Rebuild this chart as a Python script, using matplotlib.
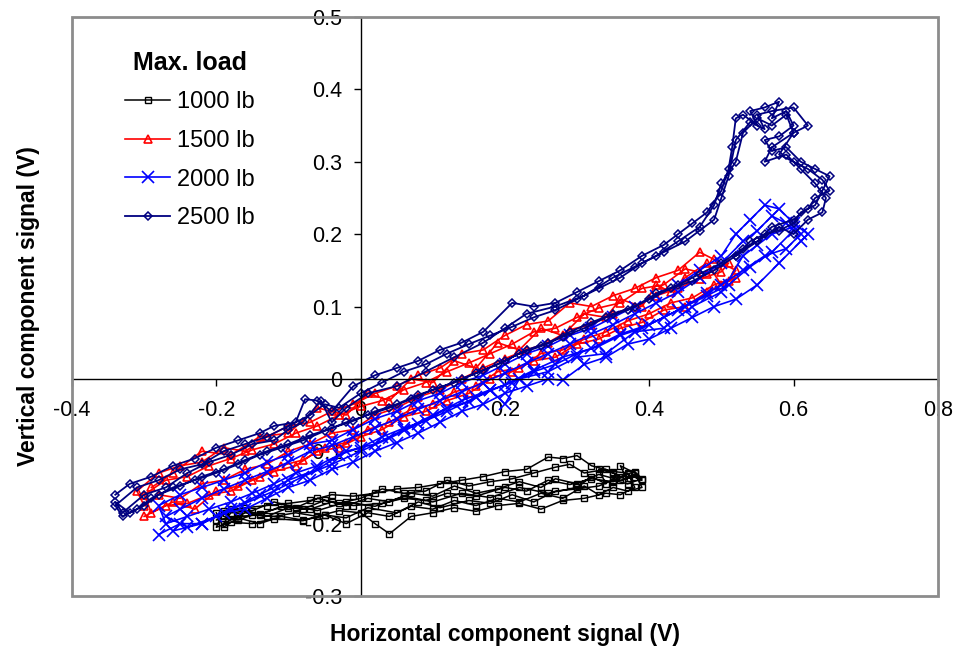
import matplotlib.pyplot as plt
from matplotlib.patches import Rectangle
from matplotlib.ticker import FuncFormatter

plt.rcParams['font.family'] = ['Liberation Sans', 'DejaVu Sans']

# 1000 lb
x_1000 = [
    -0.19, -0.17, -0.15, -0.12, -0.09, -0.06, -0.03, 0.0, 0.02, 0.04, 0.07,
    0.1, 0.13, 0.16, 0.19, 0.22, 0.25, 0.28, 0.31, 0.34, 0.36, 0.38,
    0.37, 0.35, 0.32, 0.30, 0.28, 0.26, 0.23, 0.2, 0.17, 0.14, 0.11, 0.08,
    0.05, 0.02, -0.01, -0.04, -0.07, -0.1, -0.13, -0.16, -0.19,
    -0.2, -0.18, -0.15, -0.12, -0.08, -0.05, -0.02, 0.01, 0.05, 0.08, 0.11,
    0.15, 0.18, 0.21, 0.24, 0.27, 0.3, 0.33, 0.35, 0.37, 0.39,
    0.38, 0.36, 0.34, 0.31, 0.29, 0.27, 0.24, 0.21, 0.18, 0.15, 0.12, 0.09,
    0.06, 0.03, 0.0, -0.03, -0.06, -0.09, -0.12, -0.15, -0.18,
    -0.19, -0.16, -0.13, -0.1, -0.07, -0.04, -0.01, 0.03, 0.06, 0.09, 0.12,
    0.16, 0.2, 0.23, 0.26, 0.29, 0.32, 0.35, 0.37, 0.39,
    0.38, 0.36, 0.33, 0.3, 0.27, 0.25, 0.22, 0.19, 0.16, 0.13, 0.1, 0.07,
    0.04, 0.01, -0.02, -0.05, -0.08, -0.11, -0.14, -0.17, -0.2,
    -0.18, -0.14, -0.1, -0.06, -0.02, 0.02, 0.06, 0.1, 0.14, 0.18, 0.22,
    0.26, 0.3, 0.32, 0.34, 0.33, 0.35, 0.37, 0.36, 0.38, 0.39, 0.37, 0.35,
    0.33, 0.31, 0.28, 0.25, 0.22, 0.19, 0.16, 0.13, 0.1, 0.07, 0.04, 0.01,
    -0.02, -0.05, -0.08, -0.11, -0.14, -0.17, -0.19, -0.2]
y_1000 = [
    -0.19, -0.195, -0.188, -0.19, -0.185, -0.19, -0.182, -0.185, -0.2,
    -0.214, -0.19, -0.185, -0.178, -0.183, -0.175, -0.172, -0.18, -0.168,
    -0.165, -0.158, -0.16, -0.15,
    -0.13, -0.128, -0.12, -0.106, -0.11, -0.108, -0.125, -0.128, -0.135,
    -0.14, -0.145, -0.15, -0.152, -0.158, -0.162, -0.16, -0.168, -0.172,
    -0.175, -0.178, -0.182,
    -0.205, -0.198, -0.2, -0.193, -0.196, -0.188, -0.192, -0.178, -0.185,
    -0.17, -0.178, -0.168, -0.172, -0.16, -0.17, -0.155, -0.152, -0.148,
    -0.14, -0.145, -0.138,
    -0.128, -0.135, -0.125, -0.13, -0.118, -0.122, -0.13, -0.138, -0.142,
    -0.148, -0.14, -0.155, -0.158, -0.152, -0.165, -0.172, -0.165, -0.178,
    -0.17, -0.182, -0.185,
    -0.2, -0.185, -0.19, -0.178, -0.18, -0.17, -0.175, -0.172, -0.165,
    -0.168, -0.158, -0.162, -0.15, -0.155, -0.14, -0.146, -0.138, -0.142,
    -0.132, -0.14,
    -0.135, -0.14, -0.132, -0.145, -0.138, -0.15, -0.142, -0.152, -0.158,
    -0.148, -0.162, -0.158, -0.17, -0.165, -0.175, -0.168, -0.18, -0.176,
    -0.188, -0.19, -0.195,
    -0.18, -0.186, -0.175, -0.182, -0.17, -0.176, -0.162, -0.17, -0.158,
    -0.164, -0.15, -0.158, -0.15, -0.135, -0.145, -0.125, -0.13, -0.14,
    -0.12, -0.13, -0.15, -0.155, -0.15, -0.16, -0.148, -0.165, -0.158,
    -0.17, -0.165, -0.175, -0.168, -0.18, -0.176, -0.19, -0.185, -0.2,
    -0.188, -0.195, -0.19, -0.2, -0.192, -0.205, -0.185]

# 1500 lb
x_1500 = [
    -0.3, -0.27, -0.24, -0.21, -0.18, -0.15, -0.12, -0.09, -0.06, -0.03, 0.0,
    0.03, 0.06, 0.09, 0.12, 0.15, 0.18, 0.21, 0.24, 0.27, 0.3, 0.33, 0.36,
    0.39, 0.42, 0.45, 0.48, 0.51,
    0.52, 0.49, 0.47, 0.44, 0.41, 0.38, 0.35, 0.32, 0.29, 0.26, 0.23, 0.2,
    0.17, 0.14, 0.11, 0.08, 0.05, 0.02, -0.01, -0.04, -0.07, -0.1, -0.13,
    -0.16, -0.19, -0.22, -0.25, -0.28, -0.31,
    -0.3, -0.28, -0.25, -0.22, -0.19, -0.16, -0.13, -0.1, -0.07, -0.04,
    -0.01, 0.02, 0.05, 0.08, 0.11, 0.14, 0.17, 0.2, 0.23, 0.26, 0.29, 0.32,
    0.35, 0.38, 0.41, 0.44, 0.47, 0.5,
    0.51, 0.48, 0.45, 0.42, 0.39, 0.36, 0.33, 0.3, 0.27, 0.24, 0.21, 0.18,
    0.15, 0.12, 0.09, 0.06, 0.03, 0.0, -0.03, -0.06, -0.09, -0.12, -0.15,
    -0.18, -0.21, -0.24, -0.27, -0.3,
    -0.29, -0.26, -0.23, -0.2, -0.17, -0.14, -0.11, -0.08, -0.05, -0.02,
    0.01, 0.04, 0.07, 0.1, 0.13, 0.16, 0.19, 0.22, 0.25, 0.28, 0.31, 0.34,
    0.37, 0.4, 0.43, 0.46, 0.49, 0.52,
    0.5, 0.48, 0.45, 0.43, 0.41, 0.39, 0.36, 0.34, 0.31, 0.28, 0.25, 0.22,
    0.19, 0.16, 0.13, 0.1, 0.07, 0.04, 0.01, -0.02, -0.06, -0.1, -0.14,
    -0.18, -0.22, -0.26, -0.29]
y_1500 = [
    -0.19, -0.175, -0.172, -0.16, -0.155, -0.14, -0.128, -0.12, -0.1,
    -0.095, -0.08, -0.07, -0.052, -0.045, -0.03, -0.02, 0.0, 0.01, 0.025,
    0.03, 0.048, 0.055, 0.07, 0.078, 0.095, 0.1, 0.12, 0.135,
    0.15, 0.165, 0.175, 0.15, 0.14, 0.125, 0.115, 0.1, 0.105, 0.08, 0.075,
    0.06, 0.04, 0.035, 0.015, 0.005, -0.01, -0.02, -0.035, -0.045, -0.06,
    -0.065, -0.08, -0.1, -0.095, -0.115, -0.12, -0.13, -0.155,
    -0.175, -0.16, -0.165, -0.145, -0.14, -0.125, -0.118, -0.1, -0.09,
    -0.075, -0.07, -0.05, -0.04, -0.025, -0.015, 0.0, 0.015, 0.028, 0.04,
    0.05, 0.068, 0.075, 0.09, 0.1, 0.115, 0.125, 0.138, 0.148,
    0.16, 0.145, 0.152, 0.13, 0.125, 0.105, 0.098, 0.085, 0.07, 0.065,
    0.048, 0.035, 0.022, 0.01, -0.005, -0.015, -0.03, -0.038, -0.05, -0.065,
    -0.075, -0.09, -0.098, -0.11, -0.12, -0.135, -0.14, -0.16,
    -0.185, -0.17, -0.18, -0.155, -0.148, -0.135, -0.12, -0.112, -0.095,
    -0.088, -0.07, -0.06, -0.042, -0.035, -0.018, -0.01, 0.01, 0.015, 0.035,
    0.04, 0.055, 0.065, 0.08, 0.09, 0.105, 0.112, 0.13, 0.14,
    0.13, 0.16, 0.14, 0.12, 0.13, 0.1, 0.11, 0.085, 0.09, 0.06, 0.07, 0.04,
    0.05, 0.015, 0.025, -0.005, 0.0, -0.03, -0.02, -0.05, -0.04, -0.075,
    -0.08, -0.105, -0.1, -0.13, -0.15]

# 2000 lb
x_2000 = [
    -0.28, -0.25, -0.22, -0.19, -0.16, -0.13, -0.1, -0.07, -0.04, -0.01,
    0.02, 0.05, 0.08, 0.11, 0.14, 0.17, 0.2, 0.23, 0.26, 0.28, 0.31, 0.34,
    0.37, 0.4, 0.43, 0.46, 0.49, 0.52, 0.55, 0.58, 0.61,
    0.62, 0.6, 0.58, 0.56, 0.54, 0.52, 0.5, 0.47, 0.44, 0.41, 0.38, 0.35,
    0.32, 0.29, 0.26, 0.23, 0.2, 0.17, 0.14, 0.11, 0.08, 0.05, 0.02, -0.01,
    -0.04, -0.07, -0.1, -0.13, -0.16, -0.19, -0.22, -0.25, -0.28,
    -0.27, -0.24, -0.21, -0.18, -0.15, -0.12, -0.09, -0.06, -0.03, 0.0,
    0.03, 0.06, 0.09, 0.12, 0.15, 0.18, 0.21, 0.24, 0.27, 0.3, 0.33, 0.36,
    0.39, 0.42, 0.45, 0.48, 0.51, 0.54, 0.57, 0.6,
    0.59, 0.57, 0.55, 0.53, 0.5, 0.47, 0.44, 0.41, 0.38, 0.35, 0.32, 0.29,
    0.26, 0.23, 0.2, 0.17, 0.14, 0.11, 0.08, 0.05, 0.02, -0.01, -0.04,
    -0.07, -0.1, -0.13, -0.16, -0.19, -0.22, -0.25, -0.27,
    -0.24, -0.2, -0.16, -0.12, -0.08, -0.04, 0.0, 0.04, 0.08, 0.12, 0.16,
    0.2, 0.24, 0.28, 0.32, 0.36, 0.4, 0.44, 0.48, 0.5, 0.53, 0.56, 0.59,
    0.61, 0.6, 0.57, 0.55, 0.53,
    0.5, 0.46, 0.42, 0.38, 0.34, 0.3, 0.26, 0.22, 0.2, 0.18, 0.14, 0.1,
    0.06, 0.02, -0.02, -0.06, -0.1, -0.14, -0.18, -0.22, -0.26]
y_2000 = [
    -0.215, -0.2, -0.2, -0.185, -0.18, -0.165, -0.15, -0.14, -0.125, -0.115,
    -0.1, -0.088, -0.075, -0.06, -0.045, -0.035, -0.02, -0.01, 0.0, -0.002,
    0.02, 0.03, 0.048, 0.055, 0.07, 0.085, 0.1, 0.11, 0.13, 0.16, 0.19,
    0.2, 0.215, 0.235, 0.24, 0.22, 0.2, 0.17, 0.15, 0.13, 0.115, 0.1, 0.085,
    0.07, 0.06, 0.045, 0.035, 0.02, 0.005, -0.005, -0.02, -0.03, -0.045,
    -0.055, -0.07, -0.085, -0.09, -0.105, -0.115, -0.13, -0.14, -0.15,
    -0.16, -0.175,
    -0.2, -0.19, -0.18, -0.17, -0.158, -0.145, -0.13, -0.12, -0.105, -0.095,
    -0.08, -0.068, -0.058, -0.04, -0.032, -0.015, -0.005, 0.01, 0.02, 0.035,
    0.045, 0.06, 0.07, 0.085, 0.1, 0.115, 0.13, 0.155, 0.175, 0.205,
    0.215, 0.225, 0.205, 0.19, 0.16, 0.14, 0.12, 0.105, 0.09, 0.075, 0.062,
    0.048, 0.035, 0.022, 0.008, -0.005, -0.018, -0.03, -0.042, -0.055,
    -0.068, -0.08, -0.092, -0.1, -0.115, -0.128, -0.14, -0.152, -0.165,
    -0.18, -0.19,
    -0.205, -0.19, -0.172, -0.155, -0.135, -0.118, -0.1, -0.082, -0.062,
    -0.045, -0.025, -0.008, 0.012, 0.03, 0.042, 0.062, 0.075, 0.095, 0.118,
    0.13, 0.15, 0.17, 0.18, 0.2, 0.21, 0.2, 0.185, 0.17,
    0.12, 0.1, 0.07, 0.065, 0.035, 0.03, 0.01, 0.0, -0.035, -0.015, -0.03,
    -0.05, -0.07, -0.09, -0.1, -0.125, -0.14, -0.16, -0.18, -0.2, -0.21]

# 2500 lb
x_2500 = [
    -0.34, -0.32, -0.29, -0.26, -0.23, -0.2, -0.17, -0.14, -0.12, -0.09,
    -0.077, -0.06, -0.04, -0.01, 0.02, 0.05, 0.08, 0.11, 0.14, 0.17, 0.21,
    0.24, 0.27, 0.3, 0.33, 0.36, 0.39, 0.42, 0.44, 0.46, 0.48, 0.5, 0.51,
    0.515, 0.52,
    0.53, 0.55, 0.54, 0.56, 0.58, 0.57, 0.59, 0.6, 0.58, 0.56, 0.57, 0.59,
    0.61, 0.63, 0.65, 0.64, 0.63, 0.61, 0.6,
    0.58, 0.56, 0.54, 0.52, 0.49, 0.46, 0.43, 0.4, 0.37, 0.34, 0.31, 0.28,
    0.25, 0.22, 0.19, 0.16, 0.13, 0.1, 0.07, 0.04, 0.01, -0.02, -0.05,
    -0.08, -0.11, -0.14, -0.17, -0.2, -0.23, -0.26, -0.29, -0.31, -0.33,
    -0.34, -0.31, -0.28, -0.25, -0.22, -0.19, -0.16, -0.13, -0.1, -0.07,
    -0.05, -0.03, 0.0, 0.03, 0.06, 0.09, 0.12, 0.15, 0.18, 0.21, 0.24, 0.27,
    0.3, 0.33, 0.36, 0.39, 0.42, 0.45, 0.47, 0.49, 0.5, 0.51,
    0.52, 0.54, 0.56, 0.55, 0.57, 0.6, 0.62, 0.6, 0.58, 0.6, 0.62, 0.64,
    0.65, 0.63, 0.62, 0.6, 0.57,
    0.55, 0.53, 0.5, 0.47, 0.44, 0.41, 0.38, 0.35, 0.32, 0.29, 0.26, 0.23,
    0.2, 0.17, 0.14, 0.11, 0.08, 0.05, 0.02, -0.01, -0.04, -0.07, -0.1,
    -0.13, -0.16, -0.19, -0.22, -0.25, -0.28, -0.3, -0.32, -0.34,
    -0.33, -0.3, -0.27, -0.24, -0.21, -0.18, -0.15, -0.12, -0.1, -0.08,
    -0.055, -0.04, -0.02, 0.01, 0.05, 0.09, 0.13, 0.17, 0.2, 0.23, 0.27,
    0.31, 0.35, 0.38, 0.41, 0.44, 0.47, 0.49, 0.5, 0.52, 0.53, 0.55, 0.57,
    0.59, 0.6, 0.57, 0.56, 0.59, 0.61, 0.63, 0.645, 0.64, 0.62, 0.6, 0.58,
    0.55, 0.52]
y_2500 = [
    -0.16, -0.145, -0.135, -0.12, -0.11, -0.095, -0.085, -0.075, -0.065,
    -0.06, -0.028, -0.03, -0.045, -0.01, 0.005, 0.015, 0.025, 0.04, 0.05,
    0.065, 0.105, 0.1, 0.105, 0.12, 0.135, 0.15, 0.17, 0.185, 0.2, 0.215,
    0.23, 0.26, 0.29, 0.32, 0.36,
    0.365, 0.35, 0.37, 0.375, 0.383, 0.36, 0.37, 0.35, 0.335, 0.33, 0.315,
    0.32, 0.3, 0.29, 0.28, 0.26, 0.24, 0.23, 0.215,
    0.205, 0.2, 0.19, 0.17, 0.15, 0.135, 0.125, 0.11, 0.095, 0.085, 0.07,
    0.058, 0.045, 0.035, 0.02, 0.008, -0.005, -0.015, -0.028, -0.04, -0.05,
    -0.06, -0.072, -0.085, -0.095, -0.105, -0.118, -0.13, -0.14, -0.15,
    -0.165, -0.18, -0.19,
    -0.175, -0.15, -0.14, -0.125, -0.118, -0.1, -0.09, -0.08, -0.065, -0.05,
    -0.035, -0.04, -0.02, -0.005, 0.01, 0.02, 0.035, 0.048, 0.06, 0.072,
    0.085, 0.095, 0.11, 0.125, 0.14, 0.16, 0.175, 0.19, 0.205, 0.22, 0.25,
    0.28,
    0.33, 0.355, 0.345, 0.365, 0.37, 0.375, 0.35, 0.34, 0.31, 0.3, 0.29,
    0.275, 0.26, 0.25, 0.235, 0.22, 0.21,
    0.19, 0.18, 0.16, 0.145, 0.13, 0.118, 0.1, 0.09, 0.078, 0.065, 0.05,
    0.04, 0.025, 0.012, 0.0, -0.012, -0.022, -0.035, -0.045, -0.058, -0.068,
    -0.078, -0.09, -0.1, -0.112, -0.125, -0.135, -0.148, -0.16, -0.175,
    -0.185, -0.17,
    -0.185, -0.16, -0.15, -0.13, -0.115, -0.105, -0.09, -0.085, -0.07,
    -0.06, -0.03, -0.06, -0.04, -0.02, -0.01, 0.01, 0.03, 0.05, 0.07, 0.09,
    0.1, 0.115, 0.14, 0.155, 0.17, 0.19, 0.21, 0.24, 0.27, 0.3, 0.34, 0.36,
    0.35, 0.365, 0.34, 0.32, 0.3, 0.31, 0.29, 0.27, 0.25, 0.23, 0.22, 0.2,
    0.21, 0.19, 0.17]

labels = ['1000 lb', '1500 lb', '2000 lb', '2500 lb']
legend_title = 'Max. load'
xlabel = 'Horizontal component signal (V)'
ylabel = 'Vertical component signal (V)'


def main():
    fig = plt.figure(figsize=(9.55, 6.48), dpi=100)
    ax = fig.add_axes([0.0754, 0.0802, 0.9066, 0.8936])

    ax.plot(x_1000, y_1000, color='black', lw=1.1, marker='s', ms=4,
            mfc='none', mew=1.0, label=labels[0])
    ax.plot(x_1500, y_1500, color='#ff0000', lw=1.2, marker='^', ms=6,
            mfc='none', mew=1.2, label=labels[1])
    ax.plot(x_2000, y_2000, color='#0000ff', lw=1.2, marker='x', ms=8,
            mew=1.2, label=labels[2])
    ax.plot(x_2500, y_2500, color='#000080', lw=1.3, marker='D', ms=4,
            mfc='none', mew=1.1, label=labels[3])

    ax.set_xlim(-0.4, 0.8)
    ax.set_ylim(-0.3, 0.5)
    ax.set_xticks([-0.4, -0.2, 0, 0.2, 0.4, 0.6, 0.8])
    ax.set_yticks([-0.3, -0.2, -0.1, 0, 0.1, 0.2, 0.3, 0.4, 0.5])
    fmt = FuncFormatter(lambda v, p: '%g' % round(v, 2))
    ax.xaxis.set_major_formatter(fmt)
    ax.yaxis.set_major_formatter(fmt)

    ax.spines['left'].set_position(('data', 0))
    ax.spines['bottom'].set_position(('data', 0))
    ax.spines['top'].set_visible(False)
    ax.spines['right'].set_visible(False)
    for s in ('left', 'bottom'):
        ax.spines[s].set_linewidth(1.0)
        ax.spines[s].set_color('black')
    ax.add_patch(Rectangle((0, 0), 1, 1, transform=ax.transAxes, fill=False,
                           ec='#8c8c8c', lw=2.0, clip_on=False, zorder=3))

    ax.tick_params(direction='out', length=5, width=1, labelsize=15.5)
    ax.tick_params(axis='x', pad=10)
    ax.tick_params(axis='y', pad=8)
    ax.set_axisbelow(True)

    fig.text(0.529, 0.003, xlabel, ha='center', va='bottom',
             fontsize=16.5, fontweight='bold')
    fig.text(0.03, 0.527, ylabel, ha='center', va='center',
             rotation=90, fontsize=16.5, fontweight='bold')

    ax.legend(loc='upper left', bbox_to_anchor=(0.037, 0.978),
              frameon=False, fontsize=17, handlelength=1.9,
              handletextpad=0.3, labelspacing=0.7,
              title=legend_title,
              title_fontproperties={'size': 18, 'weight': 'bold'})

    fig.savefig('out.png', dpi=100)
    plt.close(fig)
    return


if __name__ == '__main__':
    main()
